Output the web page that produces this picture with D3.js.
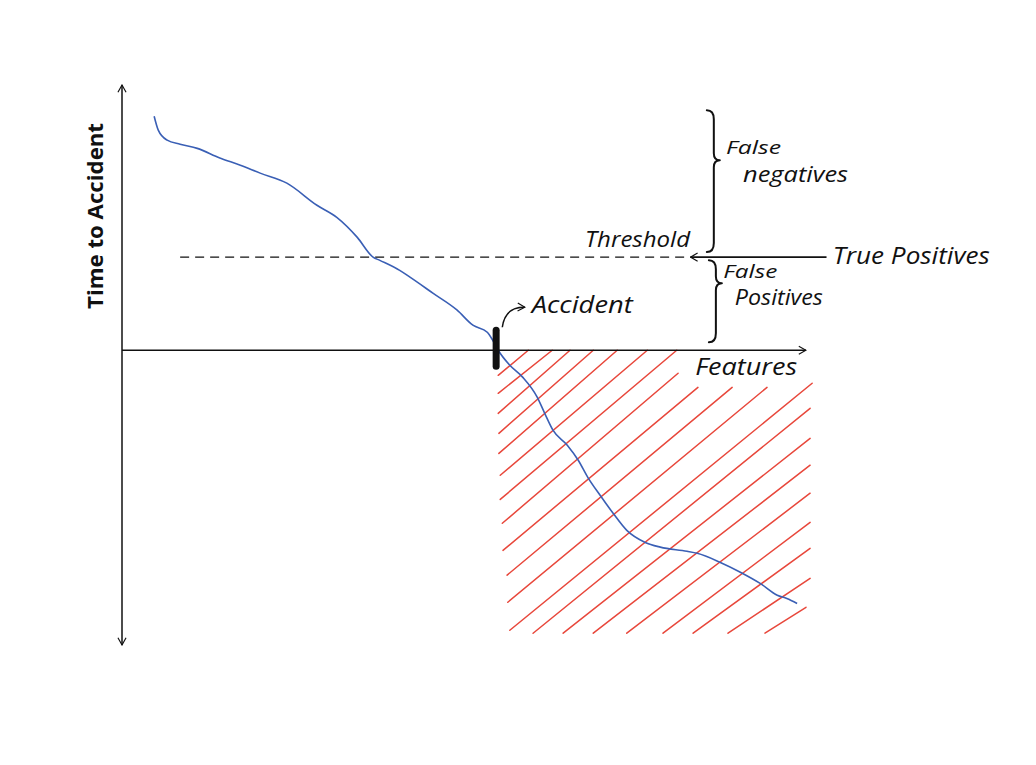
<!DOCTYPE html>
<html>
<head>
<meta charset="utf-8">
<script src="https://cdn.jsdelivr.net/npm/d3@7"></script>
<style>
  html, body { margin: 0; padding: 0; background: #fff; }
  svg { display: block; }
  .hand { font-family: "Open Sans", "Noto Sans", sans-serif; font-style: italic; fill: #111; }
</style>
</head>
<body>
<svg id="chart" width="1036" height="765"></svg>
<script>
// ---- data ----
// x: Features (0..100), y: Time to Accident (-100..90), 0 = accident
const features = [4.7,5.3,6.6,8.5,11.0,14.3,17.3,20.2,24.1,28.5,31.4,34.4,36.7,37.7,40.6,42.1,45.5,49.0,51.3,53.4,54.2,55.0,56.7,58.6,60.7,61.8,63.0,65.1,66.7,68.1,69.9,71.8,73.8,76.5,78.7,82.6,84.1,87.4,90.4,93.3,95.8,97.2,98.7];
const timeToAccident = [79.4,74.7,71.3,69.9,68.5,65.2,62.8,60.1,56.7,49.2,45.1,38.3,31.6,30.5,27.1,24.8,19.3,13.6,8.5,6.1,3.4,0,-5.1,-9.2,-15.9,-21.4,-27.1,-32.2,-37.3,-43.1,-49.2,-55.3,-61.1,-65.2,-66.8,-68.2,-68.9,-71.9,-75.3,-79.1,-83.1,-84.2,-85.9];

const threshold = 31.6;
const thresholdExtent = [8.5, 83.0];
const truePositivesArrow = [103.0, 83.1];
const accidentX = 54.7;
const accidentMark = [6.8, -5.4];

// hatch strokes: [x1, y1, x2, y2] in data units
const hatchX1 = [55.0,55.0,55.0,55.1,55.1,55.3,55.3,55.6,55.7,56.3,56.4,56.7,60.1,64.5,68.9,73.8,79.1,83.5,88.6,94.0];
const hatchY1 = [-8.5,-14.6,-21.4,-28.2,-35.0,-42.4,-50.6,-58.7,-67.9,-76.3,-85.5,-95.0,-96.0,-96.0,-96.0,-96.0,-96.0,-96.0,-96.0,-96.0];
const hatchX2 = [59.4,62.9,65.5,68.9,72.4,76.8,81.1,81.3,84.2,89.2,94.3,100.9,100.6,100.6,100.6,100.6,100.6,100.6,100.6,100.0];
const hatchY2 = [0,0,0,0,0,0,0,-7.8,-12.6,-12.6,-12.6,-11.2,-19.7,-29.9,-39.0,-48.5,-58.4,-67.2,-77.4,-87.2];

// braces: x, top, tip, bottom
const braceX = [85.5, 85.8];
const braceTop = [81.4, 30.5];
const braceTip = [64.5, 22.7];
const braceBottom = [33.3, 2.7];

// labels
const labelText = ["Threshold","True Positives","False","negatives","False","Positives","Accident","Features"];
const labelX = [67.7, 103.9, 88.3, 90.8, 87.9, 89.6, 59.9, 83.8];
const labelY = [35.0, 29.2, 66.5, 57.0, 24.4, 15.3, 12.6, -8.5];
const yAxisTitle = "Time to Accident";

// ---- scales ----
const svg = d3.select("#chart");
const x = d3.scaleLinear().domain([0, 100]).range([122, 806]);
const y = d3.scaleLinear().domain([-100, 90]).range([645, 85]);

svg.append("rect").attr("width", 1036).attr("height", 765).attr("fill", "#fff");

// markers
const defs = svg.append("defs");
defs.append("marker")
  .attr("id", "chev").attr("viewBox", "0 0 10 10")
  .attr("refX", 9).attr("refY", 5)
  .attr("markerWidth", 9).attr("markerHeight", 12)
  .attr("markerUnits", "userSpaceOnUse")
  .attr("orient", "auto-start-reverse")
  .append("path").attr("d", "M1,0.5 L9,5 L1,9.5")
  .attr("fill", "none").attr("stroke", "#111").attr("stroke-width", 1.3);

// hatch
const hatchG = svg.append("g").attr("stroke", "#e8473b").attr("stroke-width", 1.5).attr("stroke-linecap", "round");
hatchG.selectAll("line").data(d3.range(hatchX1.length)).join("line")
  .attr("x1", i => x(hatchX1[i])).attr("y1", i => y(hatchY1[i]))
  .attr("x2", i => x(hatchX2[i])).attr("y2", i => y(hatchY2[i]));

// axes (arrowed lines)
svg.append("line")
  .attr("x1", x(0)).attr("y1", y(-100)).attr("x2", x(0)).attr("y2", y(90))
  .attr("stroke", "#111").attr("stroke-width", 1.5)
  .attr("marker-start", "url(#chev)").attr("marker-end", "url(#chev)");
svg.append("line")
  .attr("x1", x(0)).attr("y1", y(0)).attr("x2", x(100)).attr("y2", y(0))
  .attr("stroke", "#111").attr("stroke-width", 1.5)
  .attr("marker-end", "url(#chev)");

// threshold
svg.append("line")
  .attr("x1", x(thresholdExtent[0])).attr("x2", x(thresholdExtent[1]))
  .attr("y1", y(threshold)).attr("y2", y(threshold))
  .attr("stroke", "#111").attr("stroke-width", 1.3).attr("stroke-dasharray", "9,6");
svg.append("line")
  .attr("x1", x(truePositivesArrow[0])).attr("x2", x(truePositivesArrow[1]))
  .attr("y1", y(threshold)).attr("y2", y(threshold))
  .attr("stroke", "#111").attr("stroke-width", 1.6)
  .attr("marker-end", "url(#chev)");

// curve
const pts = features.map((f, i) => [f, timeToAccident[i]]);
svg.append("path")
  .attr("d", d3.line().x(d => x(d[0])).y(d => y(d[1])).curve(d3.curveMonotoneX)(pts))
  .attr("fill", "none").attr("stroke", "#3a5fb5").attr("stroke-width", 1.6);

// accident marker
svg.append("line")
  .attr("x1", x(accidentX)).attr("x2", x(accidentX))
  .attr("y1", y(accidentMark[0])).attr("y2", y(accidentMark[1]))
  .attr("stroke", "#111").attr("stroke-width", 7).attr("stroke-linecap", "round");

// accident curved arrow
const ax0 = x(55.6), ay0 = y(7.8), ax1 = x(58.9), ay1 = y(14.6), cx = x(56.0), cy = y(14.8);
svg.append("path")
  .attr("d", `M${ax0},${ay0} Q${cx},${cy} ${ax1},${ay1}`)
  .attr("fill", "none").attr("stroke", "#111").attr("stroke-width", 1.5)
  .attr("marker-end", "url(#chev)");

// braces
d3.range(braceX.length).forEach(i => {
  const xs = x(braceX[i]), yt = y(braceTop[i]), ym = y(braceTip[i]), yb = y(braceBottom[i]);
  const w = 7;
  const d = `M${xs},${yt} Q${xs+w},${yt} ${xs+w},${yt+9} L${xs+w},${ym-7} Q${xs+w},${ym} ${xs+w+6},${ym} ` +
            `Q${xs+w},${ym} ${xs+w},${ym+7} L${xs+w},${yb-9} Q${xs+w},${yb} ${xs},${yb}`;
  svg.append("path").attr("d", d).attr("fill", "none").attr("stroke", "#111")
    .attr("stroke-width", 2).attr("stroke-linecap", "round").attr("stroke-linejoin", "round");
});

// labels
const labelLen = [105, 157, 55, 105, 54, 88, 101, 102];
const labelSize = [21, 23, 19, 21, 19, 21, 23, 23];
svg.selectAll("text.lbl").data(d3.range(labelText.length)).join("text")
  .attr("class", "hand lbl")
  .attr("x", i => x(labelX[i])).attr("y", i => y(labelY[i]))
  .attr("font-size", i => labelSize[i])
  .attr("textLength", i => labelLen[i]).attr("lengthAdjust", "spacingAndGlyphs")
  .text(i => labelText[i]);

svg.append("text")
  .attr("class", "hand")
  .attr("transform", `translate(103,216) rotate(-90)`)
  .attr("text-anchor", "middle")
  .attr("font-size", 21).attr("font-weight", "bold")
  .style("font-style", "normal")
  .attr("textLength", 186).attr("lengthAdjust", "spacingAndGlyphs")
  .text(yAxisTitle);
</script>
</body>
</html>
